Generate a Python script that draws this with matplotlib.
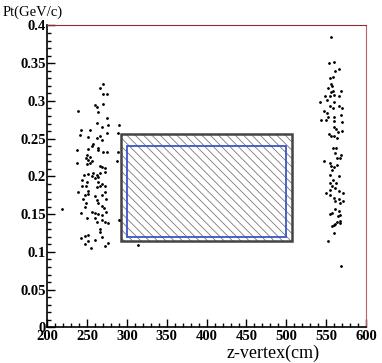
# Pt vs z-vertex scatter with acceptance boxes
import matplotlib.pyplot as plt
from matplotlib.patches import Rectangle
from matplotlib.ticker import MultipleLocator

# left cluster (z in cm, pt in GeV/c)
z_left = [269.4, 266.0, 270.2, 274.5, 259.8, 261.9, 270.2, 263.9, 275.2, 238.0,
          261.9, 276.5, 268.2, 290.0, 242.1, 253.5, 240.9, 274.5, 289.1, 251.3,
          261.9, 266.0, 268.2, 257.6, 256.4, 263.9, 263.2, 251.3, 236.7, 270.2,
          274.5, 289.1, 249.3, 253.5, 248.1, 251.3, 255.6, 249.3, 253.5, 236.7,
          266.0, 268.2, 272.3, 287.1, 246.3, 251.3, 255.6, 257.6, 261.9, 266.0,
          272.3, 263.9, 259.8, 243.8, 249.3, 263.9, 268.2, 243.0, 248.1, 261.9,
          266.0, 272.3, 238.0, 250.6, 272.3, 247.2, 251.3, 259.8, 268.2, 245.0,
          261.9, 273.2, 248.1, 263.9, 268.2, 247.2, 271.5, 218.6, 242.1, 255.6,
          259.8, 263.9, 268.2, 273.2, 249.3, 259.8, 268.2, 290.0, 261.9, 272.3,
          276.5, 266.0, 266.0, 247.2, 251.3, 241.8, 250.6, 259.8, 268.2, 276.5,
          272.3, 254.7, 247.2, 314.2]
pt_left = [0.322, 0.317, 0.309, 0.309, 0.295, 0.292, 0.296, 0.285, 0.278, 0.286,
           0.271, 0.268, 0.266, 0.268, 0.261, 0.261, 0.255, 0.257, 0.258, 0.252,
           0.251, 0.253, 0.248, 0.243, 0.240, 0.237, 0.235, 0.236, 0.235, 0.232,
           0.232, 0.232, 0.229, 0.226, 0.224, 0.222, 0.221, 0.217, 0.218, 0.218,
           0.214, 0.212, 0.211, 0.220, 0.202, 0.203, 0.201, 0.204, 0.202, 0.205,
           0.206, 0.199, 0.198, 0.195, 0.193, 0.192, 0.190, 0.187, 0.187, 0.186,
           0.187, 0.187, 0.180, 0.181, 0.179, 0.176, 0.177, 0.174, 0.176, 0.170,
           0.169, 0.170, 0.165, 0.165, 0.161, 0.160, 0.158, 0.157, 0.152, 0.153,
           0.151, 0.150, 0.149, 0.153, 0.145, 0.145, 0.142, 0.142, 0.139, 0.139,
           0.138, 0.131, 0.127, 0.121, 0.123, 0.118, 0.115, 0.116, 0.120, 0.112,
           0.108, 0.105, 0.111, 0.109]

# right cluster
z_right = [556.3, 560.4, 553.3, 565.8, 561.7, 558.8, 555.4, 556.3, 557.5, 552.0,
           558.8, 556.3, 568.8, 549.1, 554.5, 560.4, 565.8, 542.8, 551.2, 559.5,
           555.4, 558.8, 565.8, 570.1, 547.8, 551.2, 568.8, 559.5, 551.9, 543.7,
           550.3, 559.5, 570.1, 560.4, 562.9, 564.6, 570.1, 553.7, 556.3, 559.5,
           563.8, 558.8, 562.9, 561.7, 568.8, 563.8, 567.1, 547.8, 555.4, 556.3,
           560.4, 563.8, 557.5, 555.4, 565.8, 558.8, 554.5, 562.9, 557.5, 561.7,
           554.5, 565.8, 550.2, 555.4, 571.4, 560.4, 565.8, 561.7, 571.4, 567.1,
           561.7, 565.8, 554.5, 557.5, 568.0, 564.6, 567.1, 563.8, 568.0, 561.7,
           559.5, 557.5, 560.4, 552.0, 568.8]
pt_right = [0.384, 0.352, 0.350, 0.342, 0.339, 0.332, 0.331, 0.322, 0.320, 0.317,
            0.313, 0.312, 0.313, 0.307, 0.307, 0.308, 0.307, 0.299, 0.301, 0.298,
            0.293, 0.290, 0.293, 0.291, 0.287, 0.284, 0.282, 0.279, 0.279, 0.275,
            0.275, 0.273, 0.272, 0.265, 0.263, 0.259, 0.260, 0.256, 0.254, 0.254,
            0.251, 0.238, 0.237, 0.231, 0.229, 0.225, 0.224, 0.220, 0.218, 0.214,
            0.213, 0.215, 0.209, 0.202, 0.200, 0.195, 0.191, 0.191, 0.187, 0.185,
            0.182, 0.181, 0.178, 0.176, 0.178, 0.171, 0.170, 0.167, 0.167, 0.165,
            0.157, 0.154, 0.150, 0.151, 0.149, 0.147, 0.141, 0.139, 0.138, 0.137,
            0.135, 0.134, 0.125, 0.115, 0.081]

# boxes: (z_min, z_max, pt_min, pt_max)
outer_box = (293, 507, 0.115, 0.256)
inner_box = (300, 500, 0.12, 0.24)

plt.rcParams['font.family'] = 'Liberation Serif'
plt.rcParams['hatch.linewidth'] = 0.6

fig = plt.figure(figsize=(3.82, 3.63), dpi=100)
ax = fig.add_axes([0.124, 0.098, 0.834, 0.832])

ax.plot(z_left, pt_left, 'k.', markersize=2)
ax.plot(z_right, pt_right, 'k.', markersize=2)

z0, z1, p0, p1 = outer_box
ax.add_patch(Rectangle((z0, p0), z1 - z0, p1 - p0, facecolor='none',
                       edgecolor='#7a7a7a', hatch='\\\\\\\\', linewidth=0))
ax.add_patch(Rectangle((z0, p0), z1 - z0, p1 - p0, facecolor='none',
                       edgecolor='#444444', linewidth=1.8))
z0, z1, p0, p1 = inner_box
ax.add_patch(Rectangle((z0, p0), z1 - z0, p1 - p0, facecolor='none',
                       edgecolor='#3a55c8', linewidth=1.3))

ax.set_xlim(200, 600)
ax.set_ylim(0, 0.4)
ax.xaxis.set_minor_locator(MultipleLocator(10))
ax.yaxis.set_minor_locator(MultipleLocator(0.01))
ax.set_xticks(range(200, 601, 50))
ax.set_xticklabels([str(v) for v in range(200, 601, 50)])
ax.set_yticks([0, 0.05, 0.1, 0.15, 0.2, 0.25, 0.3, 0.35, 0.4])
ax.set_yticklabels(['0', '0.05', '0.1', '0.15', '0.2', '0.25', '0.3', '0.35', '0.4'])
ax.tick_params(which='both', direction='in', top=False, right=False)
ax.tick_params(which='major', length=6, width=1)
ax.tick_params(which='minor', length=3, width=1)
ax.tick_params(axis='x', pad=2)
ax.tick_params(axis='y', pad=1)
for lab in ax.get_xticklabels() + ax.get_yticklabels():
    lab.set_fontweight('bold')
    lab.set_fontsize(10.5)

ax.spines['left'].set_linewidth(1.2)
ax.spines['bottom'].set_linewidth(1.2)
ax.spines['top'].set_color('#8b3030')
ax.spines['right'].set_color('#c06060')

fig.text(0.008, 0.967, 'Pt(GeV/c)', fontsize=10.5, ha='left', va='center')
fig.text(0.715, 0.027, 'z-vertex(cm)', fontsize=13, ha='center', va='center')

fig.savefig('out.png', dpi=100)
